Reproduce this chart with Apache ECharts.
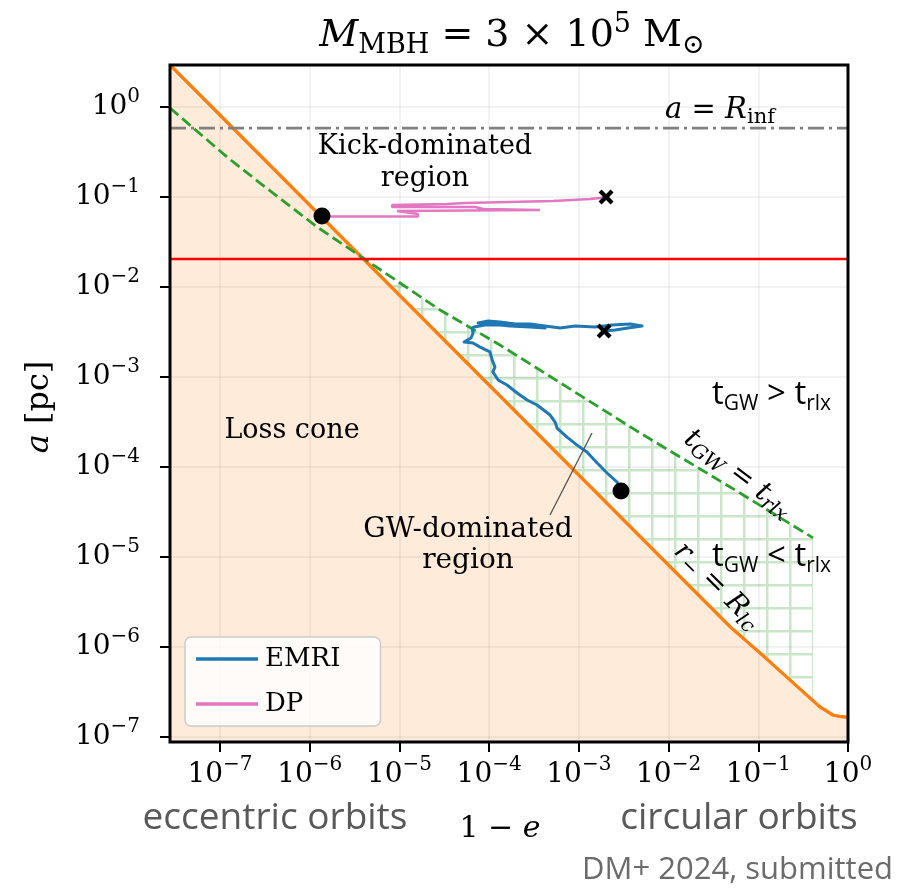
<!DOCTYPE html>
<html>
<head>
<meta charset="utf-8">
<script src="https://cdn.jsdelivr.net/npm/echarts@6/dist/echarts.min.js"></script>
<style>
  html, body { margin: 0; padding: 0; background: #fff; }
  #chart { width: 900px; height: 888px; }
</style>
</head>
<body>
<div id="chart"></div>
<script>
// Axis ranges: x = 1 - e, y = semi-major axis a [pc]
const X_RANGE = [2.77e-8, 1];
const Y_RANGE = [8.8e-8, 2.93];
const X_TICKS = [1e-7, 1e-6, 1e-5, 1e-4, 1e-3, 1e-2, 1e-1, 1];
const Y_TICKS = [1e-7, 1e-6, 1e-5, 1e-4, 1e-3, 1e-2, 1e-1, 1];

// Loss-cone boundary r_- = R_lc
const LOSS_CONE_X = [2.77e-8, 1e-7, 1e-6, 1e-5, 1e-4, 1e-3, 1e-2, 0.05, 0.105, 0.226, 0.489, 0.575, 0.682, 0.817, 1.0];
const LOSS_CONE_A = [2.93, 0.813, 0.0813, 8.13e-3, 8.13e-4, 8.13e-5, 8.13e-6, 1.63e-6, 8.57e-7, 4.30e-7, 2.15e-7, 1.95e-7, 1.75e-7, 1.69e-7, 1.66e-7];

// t_GW = t_rlx boundary
const TGW_X = [2.77e-8, 1.20e-7, 2.79e-7, 1.21e-6, 3.93e-6, 2.84e-5, 1.32e-4, 4.81e-3, 4.85e-2, 0.408];
const TGW_A = [0.975, 0.278, 0.143, 0.0464, 0.0210, 5.55e-3, 2.27e-3, 2.39e-4, 6.0e-5, 1.63e-5];
const HATCH_FROM = 3.93e-6;

// Horizontal reference levels
const KICK_LEVEL = 0.0205;
const R_INF = 0.584;

// EMRI trajectory
const EMRI_X = [1.91e-3, 2.54e-3, 3.53e-3, 5.07e-3, 3.72e-3, 2.34e-3, 1.52e-3, 9.08e-4, 6.17e-4, 4.20e-4,
  2.86e-4, 1.95e-4, 1.32e-4, 9.73e-5, 7.52e-5, 1.02e-4, 1.71e-4, 2.86e-4, 4.20e-4, 2.86e-4,
  1.50e-4, 8.99e-5, 6.79e-5, 6.44e-5, 6.62e-5, 6.28e-5, 5.25e-5, 6.62e-5, 7.93e-5, 1.02e-4,
  1.08e-4, 1.16e-4, 1.10e-4, 1.26e-4, 1.58e-4, 2.05e-4, 2.65e-4, 3.42e-4, 4.78e-4, 5.43e-4,
  5.71e-4, 7.38e-4, 9.55e-4, 1.23e-3, 1.60e-3, 2.06e-3, 2.67e-3, 2.95e-3];
const EMRI_A = [3.25e-3, 3.33e-3, 3.50e-3, 3.69e-3, 3.88e-3, 3.78e-3, 3.59e-3, 3.69e-3, 3.50e-3, 3.69e-3,
  3.88e-3, 3.88e-3, 4.08e-3, 4.19e-3, 3.98e-3, 3.88e-3, 3.69e-3, 3.59e-3, 3.50e-3, 3.69e-3,
  3.78e-3, 3.78e-3, 3.59e-3, 3.50e-3, 3.08e-3, 2.71e-3, 2.45e-3, 2.39e-3, 2.15e-3, 1.90e-3,
  1.55e-3, 1.29e-3, 1.14e-3, 9.26e-4, 8.15e-4, 6.64e-4, 5.55e-4, 4.89e-4, 3.78e-4, 3.16e-4,
  2.71e-4, 2.15e-4, 1.75e-4, 1.47e-4, 1.11e-4, 8.58e-5, 6.81e-5, 5.41e-5];

// DP trajectory
const DP_X = [2.01e-3, 1.72e-3, 1.33e-3, 1.33e-3, 5.15e-4, 5.15e-4, 5.38e-5, 3.40e-5, 8.28e-6, 8.28e-6,
  6.97e-5, 8.55e-5, 3.69e-4, 3.69e-4, 9.4e-6, 9.4e-6, 1.61e-5, 1.61e-5, 1.37e-6];
const DP_A = [0.100, 0.0975, 0.0950, 0.0903, 0.0903, 0.0858, 0.0858, 0.0836, 0.0815, 0.0774,
  0.0774, 0.0736, 0.0717, 0.0699, 0.0699, 0.0665, 0.0648, 0.0608, 0.0608];

// Initial (cross) and final (dot) positions
const START_X = [2.01e-3, 1.91e-3];
const START_A = [0.100, 3.25e-3];
const END_X = [1.37e-6, 2.95e-3];
const END_A = [0.0615, 5.41e-5];

const SERIF = 'DejaVu Serif';
const SANS = 'Open Sans';

const zip = (xs, ys) => xs.map((x, i) => [x, ys[i]]);
const L10 = Math.log10;

function logInterp(xs, ys, x) {
  const lx = L10(x);
  for (let i = 0; i < xs.length - 1; i++) {
    const a = L10(xs[i]), b = L10(xs[i + 1]);
    if (lx >= a && lx <= b) {
      const t = (lx - a) / (b - a);
      return Math.pow(10, L10(ys[i]) * (1 - t) + L10(ys[i + 1]) * t);
    }
  }
  return ys[ys.length - 1];
}

// GW-dominated region: between the two boundaries
const hatchPts = [];
TGW_X.forEach((x, i) => { if (x >= HATCH_FROM) hatchPts.push([x, TGW_A[i]]); });
const xEnd = TGW_X[TGW_X.length - 1];
hatchPts.push([xEnd, logInterp(LOSS_CONE_X, LOSS_CONE_A, xEnd)]);
for (let i = LOSS_CONE_X.length - 1; i >= 0; i--) {
  if (LOSS_CONE_X[i] > HATCH_FROM && LOSS_CONE_X[i] < xEnd) hatchPts.push([LOSS_CONE_X[i], LOSS_CONE_A[i]]);
}

// grid hatch tile
const tile = document.createElement('canvas');
tile.width = 23; tile.height = 23;
const tc = tile.getContext('2d');
tc.fillStyle = '#c9e6c9';
tc.fillRect(7, 0, 2.5, 23);
tc.fillRect(0, 9, 23, 2.5);

// plot frame in pixels
const G = { left: 170, top: 65, width: 678, height: 677 };
const W = 900, H = 888;
const pxDecX = G.width / (L10(X_RANGE[1]) - L10(X_RANGE[0]));
const pxDecY = G.height / (L10(Y_RANGE[1]) - L10(Y_RANGE[0]));
const xTickGrid = {
  left: G.left + (L10(X_TICKS[0]) - L10(X_RANGE[0])) * pxDecX,
  right: W - G.left - G.width - (L10(X_RANGE[1]) - L10(X_TICKS[X_TICKS.length - 1])) * pxDecX,
  top: G.top, bottom: H - G.top - G.height
};
const yTickGrid = {
  left: G.left, right: W - G.left - G.width,
  top: G.top + (L10(Y_RANGE[1]) - L10(Y_TICKS[Y_TICKS.length - 1])) * pxDecY,
  bottom: H - G.top - G.height + (L10(Y_TICKS[0]) - L10(Y_RANGE[0])) * pxDecY
};

function powLabel(v) {
  const e = Math.round(L10(v));
  return '{b|10}{s|' + (e < 0 ? '\u2212' + (-e) : e) + '}';
}
const tickRich = {
  b: { fontFamily: SERIF, fontSize: 28, color: '#000' },
  s: { fontFamily: SERIF, fontSize: 20, color: '#000', padding: [0, 0, 20, 0] }
};

function mathRich(size, subSize) {
  return {
    n: { fontFamily: SERIF, fontSize: size, color: '#000' },
    i: { fontFamily: SERIF, fontSize: size, fontStyle: 'italic', color: '#000' },
    sub: { fontFamily: SERIF, fontSize: subSize, color: '#000', padding: [Math.round(size * 0.5), 0, 0, 0] },
    subi: { fontFamily: SERIF, fontSize: subSize, fontStyle: 'italic', color: '#000', padding: [Math.round(size * 0.5), 0, 0, 0] },
    sup: { fontFamily: SERIF, fontSize: subSize, color: '#000', padding: [0, 0, Math.round(size * 0.6), 0] }
  };
}
const sansRich = {
  t: { fontFamily: SANS, fontSize: 33, color: '#000' },
  s: { fontFamily: SANS, fontSize: 21, color: '#000', padding: [18, 0, 0, 0] }
};

function txt(x, y, text, opts) {
  return Object.assign({
    type: 'text', x: x, y: y, z: 60,
    style: Object.assign({ text: text, align: 'center', verticalAlign: 'middle', fill: '#000' }, opts.style || {})
  }, opts.el || {});
}
const serifFont = (s) => s + 'px "DejaVu Serif"';

const chart = echarts.init(document.getElementById('chart'), null, { renderer: 'canvas' });

const option = {
  animation: false,
  backgroundColor: '#fff',
  grid: [
    { left: G.left, top: G.top, width: G.width, height: G.height },
    Object.assign({}, xTickGrid),
    Object.assign({}, yTickGrid)
  ],
  xAxis: [
    { gridIndex: 0, type: 'log', logBase: 10, min: X_RANGE[0], max: X_RANGE[1], z: 1,
      axisLine: { show: false }, axisTick: { show: false }, axisLabel: { show: false },
      splitLine: { show: true, lineStyle: { color: 'rgba(0,0,0,0.07)', width: 1.5 } } },
    { gridIndex: 1, type: 'log', logBase: 10, min: X_TICKS[0], max: X_TICKS[X_TICKS.length - 1], z: 5,
      axisLine: { show: false },
      axisTick: { show: true, inside: false, length: 10, lineStyle: { color: '#000', width: 2 } },
      axisLabel: { show: true, margin: 13, formatter: powLabel, rich: tickRich },
      splitLine: { show: false } },
    { gridIndex: 2, type: 'value', show: false, min: 0, max: 1 }
  ],
  yAxis: [
    { gridIndex: 0, type: 'log', logBase: 10, min: Y_RANGE[0], max: Y_RANGE[1], z: 1,
      axisLine: { show: false }, axisTick: { show: false }, axisLabel: { show: false },
      splitLine: { show: true, lineStyle: { color: 'rgba(0,0,0,0.07)', width: 1.5 } } },
    { gridIndex: 1, type: 'value', show: false, min: 0, max: 1 },
    { gridIndex: 2, type: 'log', logBase: 10, min: Y_TICKS[0], max: Y_TICKS[Y_TICKS.length - 1], z: 5,
      axisLine: { show: false },
      axisTick: { show: true, inside: false, length: 10, lineStyle: { color: '#000', width: 2 } },
      axisLabel: { show: true, margin: 30, align: 'right', formatter: powLabel, rich: tickRich },
      splitLine: { show: false } }
  ],
  legend: {
    data: ['EMRI', 'DP'],
    orient: 'vertical',
    left: 185, top: 637,
    padding: [9, 40, 9, 11],
    icon: 'rect',
    itemWidth: 62, itemHeight: 3.5, itemGap: 19,
    backgroundColor: 'rgba(255,255,255,0.8)',
    borderColor: '#cccccc', borderWidth: 1.5, borderRadius: 6,
    textStyle: { fontFamily: SERIF, fontSize: 26, color: '#000', padding: [0, 0, 0, 2] },
    z: 40
  },
  series: [
    { name: 'lossCone', type: 'line', xAxisIndex: 0, yAxisIndex: 0, z: 0,
      data: zip(LOSS_CONE_X, LOSS_CONE_A), showSymbol: false, symbol: 'none', silent: true,
      lineStyle: { color: '#ff7f0e', width: 3 },
      areaStyle: { color: 'rgba(255,127,14,0.22)', origin: 'start' } },
    { name: 'gwRegion', type: 'custom', xAxisIndex: 0, yAxisIndex: 0, z: 0, silent: true,
      data: [[1e-3, 1e-3]],
      renderItem: function (params, api) {
        return {
          type: 'polygon',
          shape: { points: hatchPts.map(p => api.coord(p)) },
          style: { fill: { image: tile, repeat: 'repeat' }, stroke: null },
          z2: -1
        };
      } },
    { name: 'lossConeEdge', type: 'line', xAxisIndex: 0, yAxisIndex: 0, z: 3,
      data: zip(LOSS_CONE_X, LOSS_CONE_A), showSymbol: false, symbol: 'none', silent: true,
      lineStyle: { color: '#ff7f0e', width: 3, join: 'round' } },
    { name: 'tgw', type: 'line', xAxisIndex: 0, yAxisIndex: 0, z: 3,
      data: zip(TGW_X, TGW_A), showSymbol: false, symbol: 'none', silent: true,
      lineStyle: { color: '#2ca02c', width: 2.8, type: [11, 5] } },
    { name: 'kick', type: 'line', xAxisIndex: 0, yAxisIndex: 0, z: 3,
      data: [[X_RANGE[0], KICK_LEVEL], [X_RANGE[1], KICK_LEVEL]], showSymbol: false, symbol: 'none', silent: true,
      lineStyle: { color: '#ff0000', width: 2.6 } },
    { name: 'rinf', type: 'line', xAxisIndex: 0, yAxisIndex: 0, z: 3,
      data: [[X_RANGE[0], R_INF], [X_RANGE[1], R_INF]], showSymbol: false, symbol: 'none', silent: true,
      lineStyle: { color: '#808080', width: 2.8, type: [16, 5, 3, 5] } },
    { name: 'EMRI', type: 'line', xAxisIndex: 0, yAxisIndex: 0, z: 4,
      data: zip(EMRI_X, EMRI_A), showSymbol: false, symbol: 'none',
      lineStyle: { color: '#1f77b4', width: 3, join: 'round' }, itemStyle: { color: '#1f77b4' } },
    { name: 'DP', type: 'line', xAxisIndex: 0, yAxisIndex: 0, z: 4,
      data: zip(DP_X, DP_A), showSymbol: false, symbol: 'none',
      lineStyle: { color: '#e377c2', width: 2.6 }, itemStyle: { color: '#e377c2' } },
    { name: 'start', type: 'scatter', xAxisIndex: 0, yAxisIndex: 0, z: 5, silent: true,
      data: zip(START_X, START_A),
      symbol: 'path://M2,0 L5,3 L8,0 L10,2 L7,5 L10,8 L8,10 L5,7 L2,10 L0,8 L3,5 L0,2 Z',
      symbolSize: 15, itemStyle: { color: '#000', opacity: 1 } },
    { name: 'end', type: 'scatter', xAxisIndex: 0, yAxisIndex: 0, z: 5, silent: true,
      data: zip(END_X, END_A), symbol: 'circle', symbolSize: 17, itemStyle: { color: '#000', opacity: 1 } }
  ],
  graphic: [
    { type: 'rect', z: 100, silent: true,
      shape: { x: G.left, y: G.top, width: G.width, height: G.height },
      style: { fill: null, stroke: '#000', lineWidth: 3 } },
    { type: 'line', z: 55, silent: true,
      shape: { x1: 592, y1: 433, x2: 550, y2: 515 },
      style: { stroke: '#555', lineWidth: 1.3 } },
    txt(512, 36, '{i|M}{sub|MBH}{n| = 3 × 10}{sup|5}{n| M}{sub|\u2299}', { style: { rich: mathRich(38, 27) } }),
    txt(720, 110, '{i|a}{n| = }{i|R}{sub|inf}', { style: { rich: mathRich(29, 21) } }),
    txt(425, 147, 'Kick-dominated', { style: { font: serifFont(27) } }),
    txt(425, 179, 'region', { style: { font: serifFont(27) } }),
    txt(292, 431, 'Loss cone', { style: { font: serifFont(27) } }),
    txt(468, 530, 'GW-dominated', { style: { font: serifFont(28) } }),
    txt(468, 561, 'region', { style: { font: serifFont(28) } }),
    txt(712, 395, '{t|t}{s|GW}{t| > t}{s|rlx}', { style: { align: 'left', rich: sansRich } }),
    txt(712, 557, '{t|t}{s|GW}{t| < t}{s|rlx}', { style: { align: 'left', rich: sansRich } }),
    txt(738, 474, '{i|t}{subi|GW}{n| = }{i|t}{subi|rlx}', { style: { rich: mathRich(28, 20) }, el: { rotation: -37 * Math.PI / 180 } }),
    txt(717, 586, '{i|r}{sub|\u2212}{n| = }{i|R}{subi|lc}', { style: { rich: mathRich(28, 20) }, el: { rotation: -45 * Math.PI / 180 } }),
    txt(40, 407, '{i|a}{n| [pc]}', { style: { rich: mathRich(32, 22) }, el: { rotation: Math.PI / 2 } }),
    txt(500, 829, '{n|1 \u2212 }{i|e}', { style: { rich: mathRich(30, 20) } }),
    txt(275, 818, 'eccentric orbits', { style: { font: '37px "Open Sans"', fill: '#595959' } }),
    txt(739, 818, 'circular orbits', { style: { font: '37px "Open Sans"', fill: '#595959' } }),
    txt(893, 870, 'DM+ 2024, submitted', { style: { align: 'right', font: '31px "Open Sans"', fill: '#6b6b6b' } })
  ]
};

chart.setOption(option);
</script>
</body>
</html>
